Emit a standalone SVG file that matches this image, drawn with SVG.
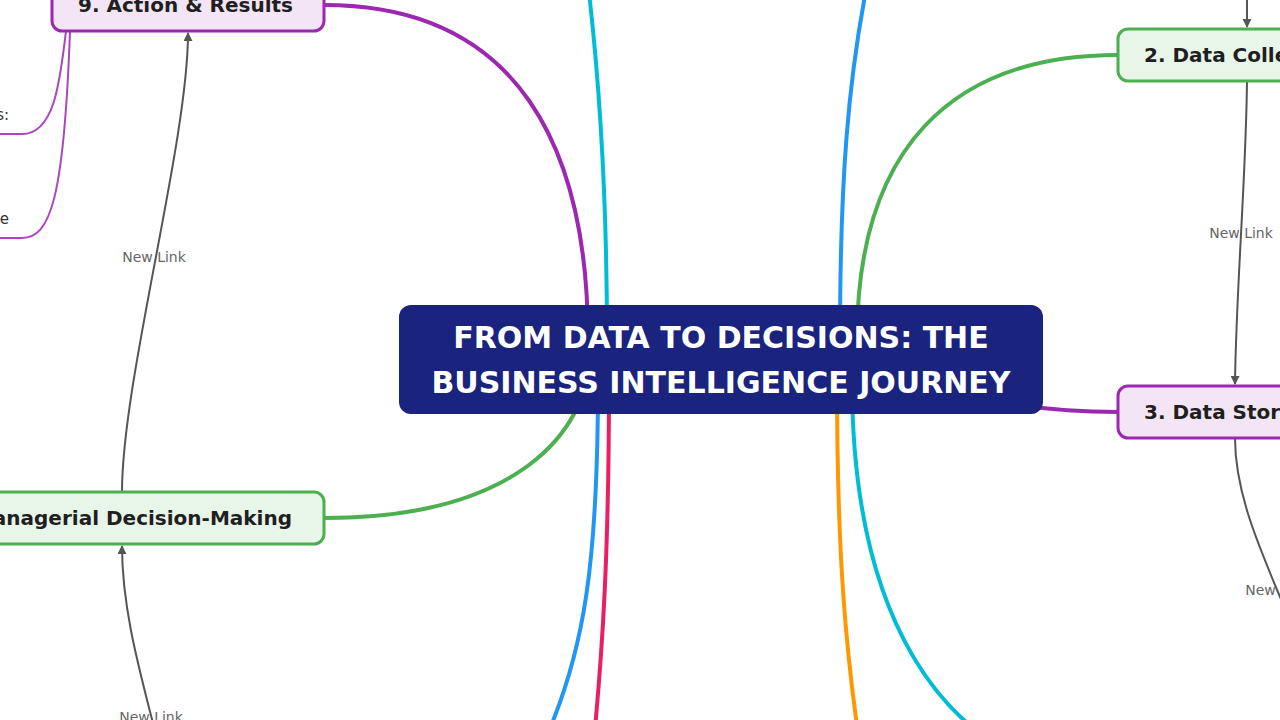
<svg xmlns="http://www.w3.org/2000/svg" width="1280" height="720" viewBox="0 0 1280 720">
  <style>
    .branch { fill: none; stroke-width: 4; stroke-linecap: round; }
    .sub { fill: none; stroke: #ab47bc; stroke-width: 2; }
    .link { fill: none; stroke: #555555; stroke-width: 2; }
    .linklabel { font-family: "DejaVu Sans", sans-serif; font-size: 14px; fill: #666666; text-anchor: middle; }
    .nodetext { font-family: "DejaVu Sans", sans-serif; font-size: 20px; font-weight: bold; fill: #1f1f1f; }
    .subtext { font-family: "DejaVu Sans", sans-serif; font-size: 15px; fill: #333333; text-anchor: end; }
    .green { fill: #e8f5e9; stroke: #4caf50; stroke-width: 3; }
    .purple { fill: #f3e5f5; stroke: #9c27b0; stroke-width: 3; }
    .central { fill: #1a237e; }
    .centraltext { font-family: "DejaVu Sans", sans-serif; font-size: 30px; font-weight: bold; fill: #ffffff; text-anchor: middle; }
  </style>
  <defs>
    <marker id="arrow" viewBox="0 0 10 10" refX="9" refY="5" markerWidth="9" markerHeight="9" markerUnits="userSpaceOnUse" orient="auto">
      <path d="M0,0 L10,5 L0,10 Z" fill="#555555"/>
    </marker>
  </defs>
  <rect width="1280" height="720" fill="#ffffff"/>

  <g id="connectors">
    <!-- main branches -->
    <path class="branch" stroke="#9c27b0" d="M324,5 C520,5 588,150 588,340"/>
    <path class="branch" stroke="#00bcd4" d="M607,340 C607,180 598,60 585,-40"/>
    <path class="branch" stroke="#2196f3" d="M840,340 C840,180 848,80 868,-20"/>
    <path class="branch" stroke="#4caf50" d="M857,340 C857,150 950,55 1118,55"/>
    <path class="branch" stroke="#4caf50" d="M324,518 C520,518 585,430 590,360"/>
    <path class="branch" stroke="#2196f3" d="M598,380 C598,560 585,650 545,740"/>
    <path class="branch" stroke="#e91e63" d="M609,380 C609,550 603,650 592,760"/>
    <path class="branch" stroke="#ff9800" d="M837,380 C837,550 845,650 862,760"/>
    <path class="branch" stroke="#00bcd4" d="M852,380 C852,600 930,760 1100,780"/>
    <path class="branch" stroke="#9c27b0" d="M1000,404 C1060,410 1080,412 1118,412"/>
    <!-- sub-topic lines -->
    <path class="sub" d="M66,31 C60,80 55,134 22,134 L-120,134"/>
    <path class="sub" d="M70,31 C64,200 50,238 22,238 L-120,238"/>
    <!-- links -->
    <path class="link" d="M122,492 C122,380 188,143 188,33" marker-end="url(#arrow)"/>
    <path class="link" d="M180,888 C180,770 122,660 122,546" marker-end="url(#arrow)"/>
    <path class="link" d="M1247,-60 L1247,27" marker-end="url(#arrow)"/>
    <path class="link" d="M1247,81 C1246,180 1236,290 1235,384" marker-end="url(#arrow)"/>
    <path class="link" d="M1235,438 C1235,540 1319,640 1319,740" marker-end="url(#arrow)"/>
    <text class="linklabel" x="154" y="262">New Link</text>
    <text class="linklabel" x="151" y="722">New Link</text>
    <text class="linklabel" x="1241" y="238">New Link</text>
    <text class="linklabel" x="1277" y="595">New Link</text>
  </g>

  <g id="central">
    <rect class="central" x="399" y="305" width="644" height="109" rx="12"/>
    <text class="centraltext" x="721" y="348">FROM DATA TO DECISIONS: THE</text>
    <text class="centraltext" x="721" y="393">BUSINESS INTELLIGENCE JOURNEY</text>
  </g>

  <g id="node9">
    <rect class="purple" x="52" y="-21" width="272" height="52" rx="10"/>
    <text class="nodetext" x="78" y="12">9. Action &amp; Results</text>
  </g>
  <g id="node9-sub1">
    <text class="subtext" x="9" y="120">s:</text>
  </g>
  <g id="node9-sub2">
    <text class="subtext" x="9" y="224">e</text>
  </g>

  <g id="node8">
    <rect class="green" x="-84" y="492" width="408" height="52" rx="10"/>
    <text class="nodetext" x="292" y="525" text-anchor="end">8. Managerial Decision-Making</text>
  </g>

  <g id="node2">
    <rect class="green" x="1118" y="29" width="258" height="52" rx="10"/>
    <text class="nodetext" x="1144" y="62">2. Data Collection</text>
  </g>

  <g id="node3">
    <rect class="purple" x="1118" y="386" width="234" height="52" rx="10"/>
    <text class="nodetext" x="1144" y="419">3. Data Storage</text>
  </g>
</svg>
